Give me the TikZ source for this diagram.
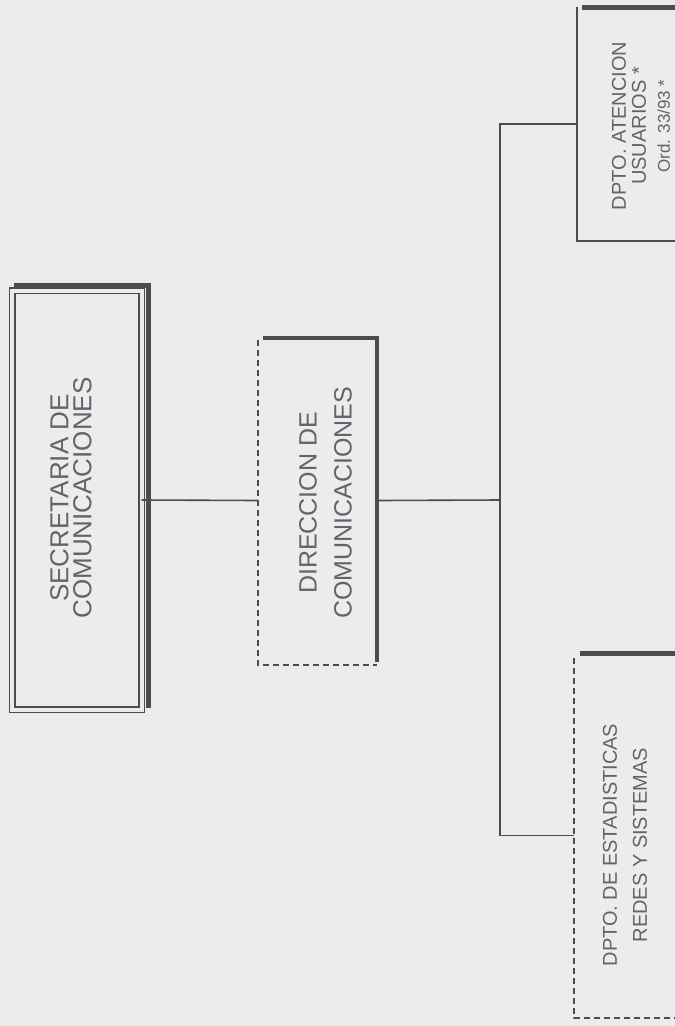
\documentclass[tikz,border=0pt]{standalone}
\usepackage{fontspec}
\setmainfont{Liberation Sans}
\usetikzlibrary{calc}
\definecolor{paper}{RGB}{236,236,238}
\definecolor{ink}{RGB}{78,76,78}
\definecolor{txt}{RGB}{100,100,104}
\begin{document}
\begin{tikzpicture}[x=1pt, y=-1pt,
  box/.style={inner sep=0pt, outer sep=0pt},
  wire/.style={ink, line width=1.6pt},
  shade/.style={ink, line width=5pt},
  dashline/.style={ink, line width=1.5pt, dash pattern=on 6pt off 4pt},
  lbl/.style={txt, rotate=90, align=center}]
\useasboundingbox[fill=paper] (0,0) rectangle (675,1026);
\clip (0,0) rectangle (675,1026);

% boxes
\node[box, minimum width=129.5pt, minimum height=419pt, draw=ink, line width=1.5pt,
      double=paper, double distance=4pt] (secretaria) at (76.75,500) {};
\node[box, minimum width=119pt, minimum height=329pt] (direccion) at (317.5,500.5) {};
\node[box, minimum width=120pt, minimum height=234pt] (atencion) at (637,124) {};
\node[box, minimum width=122pt, minimum height=365pt] (estadisticas) at (635,835.5) {};

% box edges
\draw[shade] ($(secretaria.north west)+(2,-5)$) -| ($(secretaria.south east)+(6.5,-2)$);
\draw[dashline] ($(direccion.north west)+(0,4)$) |- (direccion.south east);
\draw[shade, line width=4pt] ($(direccion.north west)+(5,1.5)$) -| ($(direccion.south east)+(0,-3)$);
\draw[wire] (atencion.north west) |- (atencion.south east);
\draw[shade] ($(atencion.north west)+(5,0)$) -- (atencion.north east);
\draw[dashline] ($(estadisticas.north west)+(0,5)$) |- (estadisticas.south east);
\draw[shade] ($(estadisticas.north west)+(6,0)$) -- (estadisticas.north east);

% labels
\node[lbl, font=\fontsize{26}{23}\selectfont] (secretariaText) at (71,498)
  {SECRETARIA DE\\COMUNICACIONES};
\node[lbl, font=\fontsize{25}{35}\selectfont] (direccionText) at (325.5,503)
  {DIRECCION DE\\COMUNICACIONES};
\node[lbl, font=\fontsize{20}{20}\selectfont] (atencionText) at (641,126)
  {DPTO. ATENCION\\{\fontsize{20}{20}\selectfont USUARIOS *}\\[4pt]{\fontsize{17}{17}\selectfont Ord. 33/93 *}};
\node[lbl, font=\fontsize{20}{30}\selectfont] (estadisticasText) at (625,845)
  {DPTO. DE ESTADISTICAS\\REDES Y SISTEMAS};

% connectors
\coordinate (bus) at (500,500);
\draw[wire] (secretaria.east) -- (direccion.west);
\draw[wire] (direccion.east) -- (bus);
\draw[wire] (atencion.west) -| (bus) |- (estadisticas.west);
\end{tikzpicture}
\end{document}
